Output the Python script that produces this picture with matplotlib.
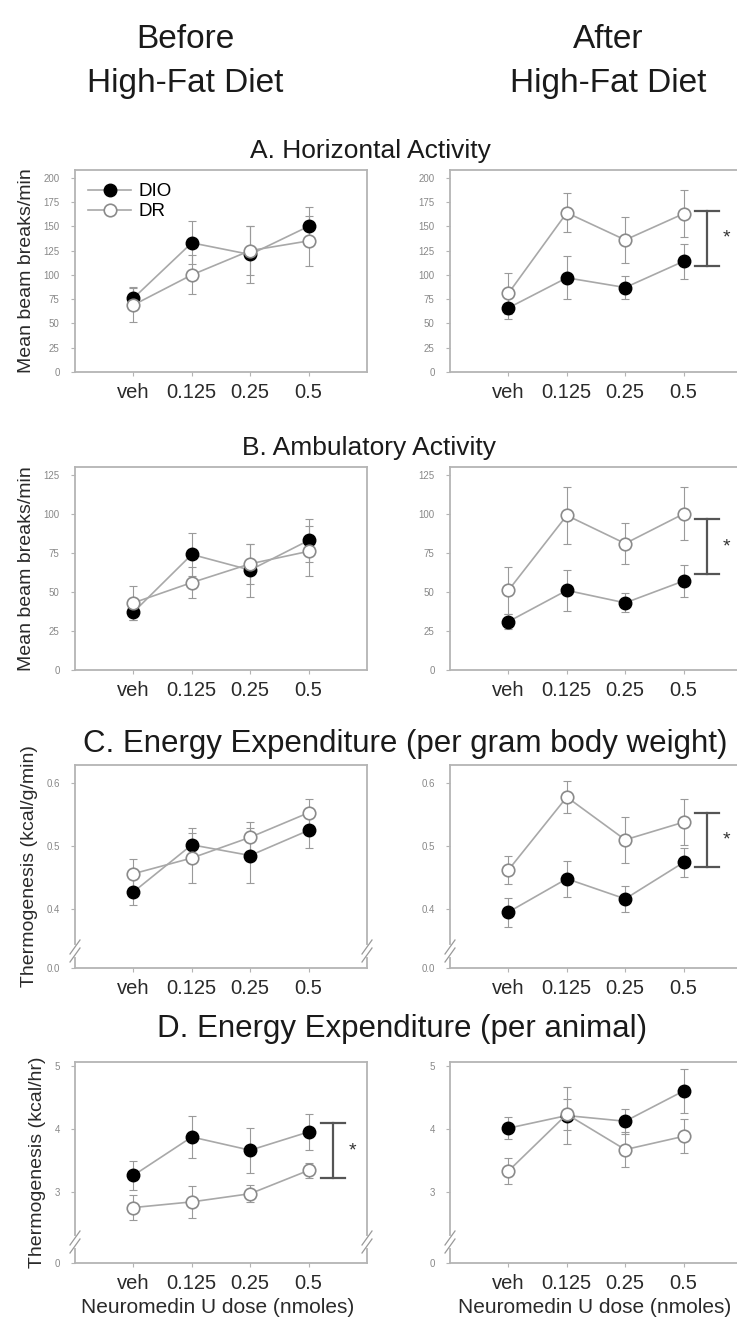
import matplotlib
matplotlib.use('Agg')
import matplotlib.pyplot as plt
from matplotlib.lines import Line2D
import numpy as np

plt.rcParams['font.family'] = ['Liberation Sans', 'DejaVu Sans']

doses = ['veh', '0.125', '0.25', '0.5']

# A. Horizontal activity (mean beam breaks/min)
a_before_dio = [76, 133, 121, 150]
a_before_dio_err = [12, 22, 29, 20]
a_before_dr = [69, 100, 125, 135]
a_before_dr_err = [17, 20, 25, 26]
a_after_dio = [66, 97, 87, 114]
a_after_dio_err = [11, 22, 12, 18]
a_after_dr = [81, 164, 136, 163]
a_after_dr_err = [21, 20, 24, 24]

# B. Ambulatory activity
b_before_dio = [37, 74, 64, 83]
b_before_dio_err = [5, 14, 17, 14]
b_before_dr = [43, 56, 68, 76]
b_before_dr_err = [11, 10, 13, 16]
b_after_dio = [31, 51, 43, 57]
b_after_dio_err = [5, 13, 6, 10]
b_after_dr = [51, 99, 81, 100]
b_after_dr_err = [15, 18, 13, 17]

# C. Energy expenditure per gram (kcal/g/min)
c_before_dio = [0.427, 0.502, 0.485, 0.525]
c_before_dio_err = [0.020, 0.027, 0.044, 0.028]
c_before_dr = [0.456, 0.481, 0.514, 0.553]
c_before_dr_err = [0.024, 0.040, 0.025, 0.022]
c_after_dio = [0.395, 0.448, 0.416, 0.474]
c_after_dio_err = [0.023, 0.029, 0.021, 0.023]
c_after_dr = [0.462, 0.578, 0.510, 0.538]
c_after_dr_err = [0.022, 0.026, 0.037, 0.037]

# D. Energy expenditure per animal (kcal/hr)
d_before_dio = [3.27, 3.88, 3.67, 3.96]
d_before_dio_err = [0.23, 0.34, 0.36, 0.28]
d_before_dr = [2.76, 2.85, 2.98, 3.35]
d_before_dr_err = [0.20, 0.25, 0.13, 0.12]
d_after_dio = [4.02, 4.22, 4.13, 4.61]
d_after_dio_err = [0.17, 0.45, 0.20, 0.35]
d_after_dr = [3.34, 4.24, 3.68, 3.89]
d_after_dr_err = [0.20, 0.25, 0.28, 0.27]

# significance brackets (low, high)
a_after_sig = (109, 166)
b_after_sig = (61.6, 96.6)
c_after_sig = (0.466, 0.553)
d_before_sig = (3.23, 4.10)

W, H = 737, 1321
fig = plt.figure(figsize=(W / 100, H / 100), dpi=100)

FRAME = '#b4b4b4'
LINE = '#a8a8a8'
x = np.arange(1, len(doses) + 1)


def make_ax(left_px, top_px, bottom_px, width_px=292):
    return fig.add_axes([left_px / W, 1 - bottom_px / H, width_px / W, (bottom_px - top_px) / H])


def draw_panel(ax, dio, dio_err, dr, dr_err, ylim, ticks, ticklabels):
    ax.errorbar(x, dio, yerr=dio_err, fmt='none', ecolor='#9a9a9a', elinewidth=0.8,
                capsize=3, capthick=0.8, zorder=2)
    ax.errorbar(x, dr, yerr=dr_err, fmt='none', ecolor='#9a9a9a', elinewidth=0.8,
                capsize=3, capthick=0.8, zorder=2)
    ax.plot(x, dio, '-o', color=LINE, lw=1.2, ms=9, mfc='black', mec='black', zorder=3)
    ax.plot(x, dr, '-o', color=LINE, lw=1.2, ms=9, mfc='white', mec='#8a8a8a', mew=1.2, zorder=4)
    ax.set_xlim(0, 5)
    ax.set_ylim(*ylim)
    ax.set_xticks(x)
    ax.set_xticklabels(doses, fontsize=14.5, color='#2a2a2a')
    ax.set_yticks(ticks)
    ax.set_yticklabels(ticklabels, fontsize=7, color='#888888')
    ax.tick_params(axis='both', direction='out', length=3, width=0.8, color=FRAME)
    ax.tick_params(axis='y', pad=8)
    ax.tick_params(axis='x', pad=5)
    for s in ax.spines.values():
        s.set_color(FRAME)
        s.set_linewidth(1.3)


def break_marks(ax, yc_px, sides=(0, 1)):
    h_px = ax.bbox.height
    w_px = ax.bbox.width
    yc = yc_px / h_px
    dx, dy = 5 / w_px, 7 / h_px
    gap = 4 / h_px
    for xs in sides:
        ax.plot([xs, xs], [yc - gap, yc + gap], color='white', lw=3, transform=ax.transAxes,
                clip_on=False, zorder=10)
        for off in (-gap, gap):
            ax.plot([xs - dx, xs + dx], [yc + off - dy, yc + off + dy], color='#999999', lw=0.9,
                    transform=ax.transAxes, clip_on=False, zorder=11)


def sig_bracket(ax, xpos, lo, hi):
    ax.plot([xpos, xpos], [lo, hi], color='#555555', lw=1.6, clip_on=False)
    for yy in (lo, hi):
        ax.plot([xpos - 0.2, xpos + 0.2], [yy, yy], color='#555555', lw=1.6, clip_on=False)
    ax.text(xpos + 0.33, (lo + hi) / 2, '*', fontsize=14, ha='center', va='center', color='#333333')


rows = [(170, 372), (467, 670), (765, 968), (1062, 1263)]
ytl = '#2a2a2a'
RW = 300  # right-column axes run off the figure edge

# A
ax = make_ax(75, *rows[0])
draw_panel(ax, a_before_dio, a_before_dio_err, a_before_dr, a_before_dr_err,
           (0, 208), range(0, 201, 25), [str(v) for v in range(0, 201, 25)])
ax.set_ylabel('Mean beam breaks/min', fontsize=14, color=ytl, labelpad=6)
handles = [Line2D([], [], color=LINE, lw=1.2, marker='o', ms=9, mfc='black', mec='black'),
           Line2D([], [], color=LINE, lw=1.2, marker='o', ms=9, mfc='white', mec='#8a8a8a', mew=1.2)]
ax.legend(handles, ['DIO', 'DR'], loc='upper left', frameon=False, fontsize=13.5,
          handlelength=2.3, handletextpad=0.4, labelspacing=0.15, borderaxespad=0.3,
          bbox_to_anchor=(0.0, 1.0))
ax = make_ax(450, *rows[0], width_px=RW)
draw_panel(ax, a_after_dio, a_after_dio_err, a_after_dr, a_after_dr_err,
           (0, 208), range(0, 201, 25), [str(v) for v in range(0, 201, 25)])
ax.set_xlim(0, 5 * RW / 292)
sig_bracket(ax, 4.4, *a_after_sig)

# B
ax = make_ax(75, *rows[1])
draw_panel(ax, b_before_dio, b_before_dio_err, b_before_dr, b_before_dr_err,
           (0, 130), range(0, 126, 25), [str(v) for v in range(0, 126, 25)])
ax.set_ylabel('Mean beam breaks/min', fontsize=14, color=ytl, labelpad=6)
ax = make_ax(450, *rows[1], width_px=RW)
draw_panel(ax, b_after_dio, b_after_dio_err, b_after_dr, b_after_dr_err,
           (0, 130), range(0, 126, 25), [str(v) for v in range(0, 126, 25)])
ax.set_xlim(0, 5 * RW / 292)
sig_bracket(ax, 4.4, *b_after_sig)

# C (broken axis: bottom of axis labelled 0.0)
c_ticks = [0.306, 0.4, 0.5, 0.6]
c_labels = ['0.0', '0.4', '0.5', '0.6']
ax = make_ax(75, *rows[2])
draw_panel(ax, c_before_dio, c_before_dio_err, c_before_dr, c_before_dr_err,
           (0.306, 0.629), c_ticks, c_labels)
ax.set_ylabel('Thermogenesis (kcal/g/min)', fontsize=14, color=ytl, labelpad=6)
break_marks(ax, 17, sides=(0, 1))
ax = make_ax(450, *rows[2], width_px=RW)
draw_panel(ax, c_after_dio, c_after_dio_err, c_after_dr, c_after_dr_err,
           (0.306, 0.629), c_ticks, c_labels)
ax.set_xlim(0, 5 * RW / 292)
break_marks(ax, 17, sides=(0,))
sig_bracket(ax, 4.4, *c_after_sig)

# D (broken axis: bottom of axis labelled 0)
d_ticks = [1.88, 3, 4, 5]
d_labels = ['0', '3', '4', '5']
ax = make_ax(75, *rows[3])
draw_panel(ax, d_before_dio, d_before_dio_err, d_before_dr, d_before_dr_err,
           (1.88, 5.07), d_ticks, d_labels)
ax.set_ylabel('Thermogenesis (kcal/hr)', fontsize=14, color=ytl, labelpad=6)
ax.set_xlabel('Neuromedin U dose (nmoles)', fontsize=15, color=ytl)
ax.xaxis.set_label_coords(0.49, -0.175)
break_marks(ax, 21, sides=(0, 1))
sig_bracket(ax, 4.42, *d_before_sig)
ax = make_ax(450, *rows[3], width_px=RW)
draw_panel(ax, d_after_dio, d_after_dio_err, d_after_dr, d_after_dr_err,
           (1.88, 5.07), d_ticks, d_labels)
ax.set_xlim(0, 5 * RW / 292)
ax.set_xlabel('Neuromedin U dose (nmoles)', fontsize=15, color=ytl)
ax.xaxis.set_label_coords(0.483, -0.175)
break_marks(ax, 21, sides=(0,))


def ftext(xp, yp, s, size):
    fig.text(xp / W, 1 - yp / H, s, fontsize=size, ha='center', va='baseline', color='#1a1a1a')


ftext(185, 48, 'Before', 24)
ftext(185, 92, 'High-Fat Diet', 24)
ftext(608, 48, 'After', 24)
ftext(608, 92, 'High-Fat Diet', 24)
ftext(370, 158, 'A. Horizontal Activity', 19)
ftext(369, 455, 'B. Ambulatory Activity', 19)
ftext(405, 752, 'C. Energy Expenditure (per gram body weight)', 22.5)
ftext(402, 1037, 'D. Energy Expenditure (per animal)', 22.5)

fig.savefig('out.png', dpi=100, facecolor='white')
